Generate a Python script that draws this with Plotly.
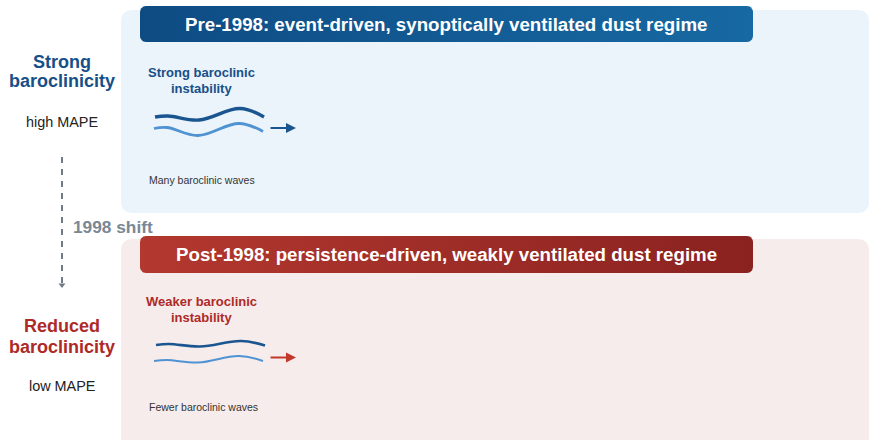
import numpy as np
import plotly.graph_objects as go

# ---------------- data (text + schematic wave profiles) ----------------
regime_titles = [
    "Pre-1998: event-driven, synoptically ventilated dust regime",
    "Post-1998: persistence-driven, weakly ventilated dust regime",
]
baro_labels = [["Strong", "baroclinicity"], ["Reduced", "baroclinicity"]]
mape_labels = ["high MAPE", "low MAPE"]
instab_labels = [["Strong baroclinic", "instability"], ["Weaker baroclinic", "instability"]]
wave_labels = ["Many baroclinic waves", "Fewer baroclinic waves"]
shift_label = "1998 shift"

# wave profiles: along-wave position and displacement
wave_pos = [0, 13, 44, 85, 109]
strong_upper = [0.0, -1.0, 3.0, -8.5, 0.0]
strong_lower = [0.0, -1.0, 7.0, -5.0, 3.0]
weak_upper = [0.0, -1.0, 1.5, -4.0, 0.5]
weak_lower = [0.0, -1.0, 1.5, -5.0, 0.0]

# ---------------- figure ----------------
W, H = 869, 440
fig = go.Figure()

BLUE = "#174f88"
RED = "#ad2a28"
LIGHTBLUE = "#4f93d2"
GRAY = "#6e7b87"
font = "Liberation Sans, Arial"


def rrect_pts(x0, y0, x1, y1, r, n=8):
    xs, ys = [], []
    corners = [(x1 - r, y0 + r, -90, 0), (x1 - r, y1 - r, 0, 90),
               (x0 + r, y1 - r, 90, 180), (x0 + r, y0 + r, 180, 270)]
    for cx, cy, a0, a1 in corners:
        for a in np.linspace(np.radians(a0), np.radians(a1), n):
            xs.append(cx + r * np.cos(a))
            ys.append(cy + r * np.sin(a))
    xs.append(xs[0]); ys.append(ys[0])
    return xs, ys


def rrect_path(x0, y0, x1, y1, r):
    return (f"M{x0+r},{y0} L{x1-r},{y0} Q{x1},{y0} {x1},{y0+r} "
            f"L{x1},{y1-r} Q{x1},{y1} {x1-r},{y1} L{x0+r},{y1} "
            f"Q{x0},{y1} {x0},{y1-r} L{x0},{y0+r} Q{x0},{y0} {x0+r},{y0} Z")


# panels
fig.add_shape(type="path", path=rrect_path(121, 10, 869, 213, 12),
              fillcolor="#ebf3fb", line_width=0, layer="below")
fig.add_shape(type="path", path=rrect_path(121, 239, 869, 452, 12),
              fillcolor="#f6ecec", line_width=0, layer="below")

# header bars with gradient
headers = [
    (6, 42, [[0, "#0e4b83"], [1, "#1769a3"]]),
    (236, 273, [[0, "#b3382f"], [1, "#8a2220"]]),
]
for (y0, y1, cs), title in zip(headers, regime_titles):
    xs, ys = rrect_pts(140, y0, 753, y1, 6)
    fig.add_trace(go.Scatter(x=xs, y=ys, mode="lines", fill="toself",
                             line=dict(width=0, color="rgba(0,0,0,0)"),
                             fillgradient=dict(type="horizontal", colorscale=cs),
                             hoverinfo="skip", showlegend=False))
    fig.add_annotation(x=446, y=(y0 + y1) / 2, text=f"<b>{title}</b>", showarrow=False,
                       font=dict(family=font, size=18.7, color="white"),
                       xanchor="center", yanchor="middle")

# waves
def add_wave(prof, x0, y0, color, width):
    fig.add_trace(go.Scatter(x=[x0 + p for p in wave_pos], y=[y0 + d for d in prof],
                             mode="lines", line=dict(color=color, width=width, shape="spline",
                                                     smoothing=1.1),
                             hoverinfo="skip", showlegend=False))

add_wave(strong_upper, 155, 117, "#1b5590", 3.4)
add_wave(strong_lower, 154, 128.5, LIGHTBLUE, 2.8)
add_wave(weak_upper, 156, 345, "#1b5590", 2.6)
add_wave(weak_lower, 154, 361, LIGHTBLUE, 2.0)

# small arrows right of waves
for y, col in [(128, "#1b5590"), (357.5, "#c0392b")]:
    fig.add_annotation(x=296, y=y, ax=269, ay=y, xref="x", yref="y", axref="x", ayref="y",
                       text="", showarrow=True, arrowhead=2, arrowsize=1, arrowwidth=2,
                       arrowcolor=col)

# left column texts
for lines, ys, col in [(baro_labels[0], (62, 81), BLUE), (baro_labels[1], (326, 347), RED)]:
    for txt, y in zip(lines, ys):
        fig.add_annotation(x=62, y=y, text=f"<b>{txt}</b>", showarrow=False,
                           font=dict(family=font, size=18, color=col),
                           xanchor="center", yanchor="middle")
for txt, y in [(mape_labels[0], 122), (mape_labels[1], 386)]:
    fig.add_annotation(x=62, y=y, text=txt, showarrow=False,
                       font=dict(family=font, size=14.4, color="#222222"),
                       xanchor="center", yanchor="middle")

# instability labels
for lines, ys, col in [(instab_labels[0], (72, 88), BLUE), (instab_labels[1], (301, 317), RED)]:
    for txt, y in zip(lines, ys):
        fig.add_annotation(x=201, y=y, text=f"<b>{txt}</b>", showarrow=False,
                           font=dict(family=font, size=13, color=col),
                           xanchor="center", yanchor="middle")

# wave count labels
for txt, y in [(wave_labels[0], 180), (wave_labels[1], 407)]:
    fig.add_annotation(x=147, y=y, text=txt, showarrow=False,
                       font=dict(family=font, size=10.5, color="#333333"),
                       xanchor="left", yanchor="middle")

# dashed shift arrow
fig.add_shape(type="line", x0=62, x1=62, y0=157, y1=283,
              line=dict(color=GRAY, width=2, dash="6px,6px"))
fig.add_trace(go.Scatter(x=[62], y=[285], mode="markers",
                         marker=dict(symbol="triangle-down", size=6, color=GRAY),
                         hoverinfo="skip", showlegend=False))
fig.add_annotation(x=71, y=227, text=f"<b>{shift_label}</b>", showarrow=False,
                   font=dict(family=font, size=17.3, color="#7a8794"),
                   xanchor="left", yanchor="middle")

fig.update_layout(
    width=W, height=H, margin=dict(l=0, r=0, t=0, b=0),
    paper_bgcolor="white", plot_bgcolor="white",
    xaxis=dict(range=[0, W], visible=False, fixedrange=True),
    yaxis=dict(range=[H, 0], visible=False, fixedrange=True),
    showlegend=False,
)
fig.write_html("out.html", config={"displayModeBar": False},
               post_script="document.body.style.margin='0px';")
